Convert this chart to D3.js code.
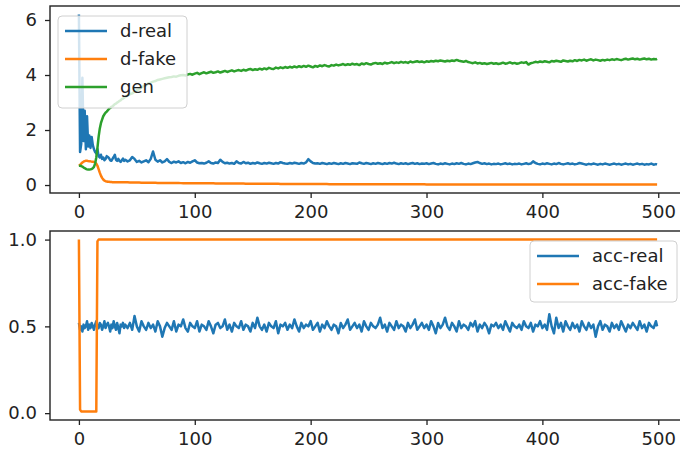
<!DOCTYPE html>
<html>
<head>
<meta charset="utf-8">
<title>GAN training curves</title>
<script src="https://d3js.org/d3.v7.min.js"></script>
<style>
  body { margin: 0; background: #fff; }
  svg text { font-family: "DejaVu Sans", sans-serif; fill: #222; }
</style>
</head>
<body>
<div id="viz"></div>
<script>
// epochs: every epoch up to 39, then every 2nd, plus the last one
var epochs = d3.range(0, 40).concat(d3.range(40, 499, 2), [499]);

var dReal = [
  6.2, 1.2, 1.5, 3.9, 1.6, 2.7, 1.3, 2.5, 1.4, 1.8,
  1.35, 1.75, 1.45, 1.3, 1.2, 1.15, 1.3, 1.05, 1.0, 1.1,
  0.95, 1.0, 0.9, 0.95, 1.05, 1.02, 0.98, 0.9, 0.88, 0.95,
  1.02, 1.1, 0.92, 0.88, 0.95, 0.88, 0.84, 0.9, 0.96, 0.88,
  // 40..98
  0.92, 0.86, 0.9, 1.02, 0.95, 0.84, 0.88, 0.82, 0.86, 0.9,
  0.83, 0.95, 1.22, 0.92, 0.85, 0.9, 0.82, 0.86, 0.94, 0.84,
  0.8, 0.85, 0.82, 0.86, 0.8, 0.83, 0.79, 0.84, 0.81, 0.86,
  // 100..498
  0.9, 0.82, 0.79, 0.8, 0.78, 0.81, 0.86, 0.8, 0.78, 0.82,
  0.8, 0.92, 0.84, 0.79, 0.81, 0.78, 0.8, 0.77, 0.86, 0.8,
  0.78, 0.84, 0.79, 0.81, 0.77, 0.8, 0.78, 0.82, 0.79, 0.77,
  0.8, 0.78, 0.81, 0.79, 0.77, 0.8, 0.78, 0.83, 0.8, 0.78,
  0.77, 0.8, 0.78, 0.81, 0.79, 0.77, 0.8, 0.78, 0.82, 0.94,
  0.86, 0.8, 0.78, 0.79, 0.77, 0.8, 0.78, 0.76, 0.79, 0.77,
  0.8, 0.78, 0.76, 0.79, 0.77, 0.8, 0.78, 0.76, 0.79, 0.78,
  0.77, 0.82, 0.79, 0.77, 0.8, 0.78, 0.76, 0.79, 0.77, 0.8,
  0.78, 0.76, 0.79, 0.77, 0.8, 0.78, 0.81, 0.78, 0.76, 0.79,
  0.77, 0.79, 0.76, 0.78, 0.8, 0.77, 0.79, 0.76, 0.78, 0.77,
  0.79, 0.76, 0.78, 0.8, 0.77, 0.75, 0.78, 0.76, 0.79, 0.77,
  0.75, 0.78, 0.76, 0.79, 0.77, 0.8, 0.77, 0.75, 0.78, 0.76,
  0.79, 0.82, 0.84, 0.8, 0.77, 0.79, 0.76, 0.78, 0.75, 0.77,
  0.76, 0.78, 0.75, 0.77, 0.79, 0.76, 0.78, 0.75, 0.77, 0.76,
  0.78, 0.75, 0.77, 0.79, 0.76, 0.78, 0.86, 0.8, 0.77, 0.75,
  0.78, 0.76, 0.79, 0.77, 0.75, 0.78, 0.76, 0.8, 0.77, 0.75,
  0.77, 0.79, 0.76, 0.78, 0.75, 0.77, 0.8, 0.78, 0.76, 0.74,
  0.77, 0.75, 0.78, 0.76, 0.74, 0.77, 0.75, 0.78, 0.76, 0.74,
  0.76, 0.78, 0.75, 0.77, 0.74, 0.76, 0.78, 0.75, 0.77, 0.74,
  0.76, 0.78, 0.75, 0.77, 0.74, 0.76, 0.75, 0.78, 0.74, 0.76,
  0.75
];

var dFake = [
  0.7, 0.73, 0.78, 0.82, 0.85, 0.87, 0.88, 0.88, 0.87, 0.86,
  0.86, 0.85, 0.85, 0.84, 0.82, 0.78, 0.7, 0.58, 0.45, 0.34,
  0.26, 0.2, 0.16, 0.14, 0.13, 0.12, 0.115, 0.11, 0.11, 0.105,
  0.105, 0.105, 0.1, 0.1, 0.1, 0.1, 0.1, 0.1, 0.1, 0.1,
  // 40..98
  0.1, 0.1, 0.095, 0.095, 0.09, 0.09, 0.09, 0.085, 0.085, 0.085,
  0.08, 0.08, 0.08, 0.08, 0.078, 0.077, 0.076, 0.075, 0.074, 0.073,
  0.072, 0.071, 0.07, 0.07, 0.069, 0.068, 0.068, 0.067, 0.066, 0.066,
  // 100..498
  0.065, 0.064, 0.064, 0.063, 0.062, 0.062, 0.061, 0.06, 0.06, 0.059,
  0.058, 0.058, 0.057, 0.056, 0.056, 0.055, 0.054, 0.054, 0.053, 0.052,
  0.052, 0.051, 0.05, 0.05, 0.049, 0.048, 0.048, 0.047, 0.046, 0.046,
  0.045, 0.045, 0.044, 0.043, 0.043, 0.042, 0.042, 0.041, 0.04, 0.04,
  0.04, 0.039, 0.039, 0.038, 0.038, 0.037, 0.037, 0.036, 0.036, 0.036,
  0.035, 0.035, 0.034, 0.034, 0.034, 0.033, 0.033, 0.033, 0.032, 0.032,
  0.032, 0.031, 0.031, 0.031, 0.03, 0.03, 0.03, 0.03, 0.029, 0.029,
  0.029, 0.029, 0.028, 0.028, 0.028, 0.028, 0.027, 0.027, 0.027, 0.027,
  0.027, 0.026, 0.026, 0.026, 0.026, 0.026, 0.025, 0.025, 0.025, 0.025,
  0.025, 0.025, 0.025, 0.024, 0.024, 0.024, 0.024, 0.024, 0.024, 0.024,
  0.023, 0.023, 0.023, 0.023, 0.023, 0.023, 0.023, 0.023, 0.023, 0.023,
  0.023, 0.023, 0.023, 0.022, 0.022, 0.022, 0.022, 0.022, 0.022, 0.022,
  0.022, 0.022, 0.021, 0.021, 0.021, 0.021, 0.021, 0.021, 0.021, 0.021,
  0.021, 0.021, 0.021, 0.021, 0.021, 0.021, 0.021, 0.021, 0.021, 0.021,
  0.021, 0.021, 0.021, 0.021, 0.021, 0.021, 0.021, 0.021, 0.021, 0.021,
  0.02, 0.02, 0.02, 0.02, 0.02, 0.02, 0.02, 0.02, 0.02, 0.02,
  0.02, 0.02, 0.02, 0.02, 0.02, 0.02, 0.02, 0.02, 0.02, 0.02,
  0.02, 0.02, 0.02, 0.02, 0.02, 0.02, 0.02, 0.02, 0.02, 0.02,
  0.019, 0.019, 0.019, 0.019, 0.019, 0.019, 0.019, 0.019, 0.019, 0.019,
  0.019, 0.019, 0.019, 0.019, 0.019, 0.019, 0.019, 0.019, 0.019, 0.019,
  0.019
];

var gen = [
  0.7, 0.7, 0.69, 0.67, 0.64, 0.61, 0.59, 0.57, 0.56, 0.56,
  0.57, 0.58, 0.61, 0.66, 0.78, 1.0, 1.35, 1.75, 2.05, 2.25,
  2.38, 2.5, 2.57, 2.63, 2.67, 2.72, 2.77, 2.8, 2.84, 2.86,
  2.9, 2.94, 2.96, 3.0, 3.02, 3.06, 3.08, 3.12, 3.14, 3.17,
  // 40..98
  3.2, 3.25, 3.3, 3.33, 3.4, 3.45, 3.48, 3.55, 3.6, 3.63,
  3.7, 3.72, 3.76, 3.78, 3.82, 3.84, 3.86, 3.88, 3.9, 3.92,
  3.93, 3.95, 3.94, 3.97, 3.99, 4.0, 3.98, 4.02, 4.04, 4.01,
  // 100..498
  4.05, 4.08, 4.03, 4.07, 4.1, 4.06, 4.09, 4.12, 4.08, 4.1,
  4.13, 4.09, 4.12, 4.15, 4.11, 4.14, 4.17, 4.13, 4.16, 4.18,
  4.15, 4.19, 4.16, 4.2, 4.22, 4.18, 4.21, 4.19, 4.23, 4.2,
  4.24, 4.21, 4.26, 4.23, 4.22, 4.27, 4.24, 4.28, 4.25, 4.29,
  4.26, 4.3, 4.27, 4.31, 4.28, 4.32, 4.29, 4.33, 4.3, 4.34,
  4.31, 4.28, 4.33, 4.3, 4.35, 4.32, 4.36, 4.33, 4.31, 4.36,
  4.34, 4.38, 4.35, 4.37, 4.4, 4.36, 4.39, 4.37, 4.41, 4.38,
  4.4, 4.36, 4.42, 4.39, 4.43, 4.4, 4.38, 4.42, 4.44, 4.41,
  4.43, 4.4, 4.45, 4.42, 4.44, 4.47, 4.43, 4.46, 4.44, 4.48,
  4.45, 4.47, 4.44, 4.49, 4.46, 4.48, 4.5, 4.47, 4.49, 4.46,
  4.5, 4.48, 4.51, 4.49, 4.52, 4.5, 4.53, 4.51, 4.49, 4.52,
  4.5, 4.53, 4.51, 4.55, 4.52, 4.5, 4.48, 4.51, 4.47, 4.45,
  4.43, 4.46, 4.42, 4.44, 4.41, 4.43, 4.4, 4.42, 4.44, 4.41,
  4.43, 4.4, 4.42, 4.45, 4.41, 4.43, 4.46, 4.42, 4.44, 4.41,
  4.43, 4.46, 4.44, 4.47, 4.38, 4.43, 4.45, 4.48, 4.46, 4.49,
  4.47, 4.5, 4.48, 4.46, 4.51, 4.49, 4.52, 4.5, 4.48, 4.53,
  4.51, 4.49, 4.52, 4.5, 4.54, 4.51, 4.55, 4.53, 4.56, 4.52,
  4.55, 4.57, 4.53, 4.56, 4.54, 4.52, 4.55, 4.53, 4.56, 4.54,
  4.57, 4.55, 4.58, 4.56, 4.54, 4.57, 4.59, 4.56, 4.58, 4.6,
  4.57, 4.59, 4.56, 4.58, 4.6, 4.57, 4.59, 4.56, 4.58, 4.57,
  4.59
];

var accReal = [
  0.52, 0.48, 0.5, 0.47, 0.51, 0.49, 0.5, 0.53, 0.48, 0.51,
  0.49, 0.52, 0.5, 0.48, 0.51, 0.53, 0.5, 0.49, 0.52, 0.51,
  0.48, 0.5, 0.53, 0.49, 0.51, 0.52, 0.5, 0.47, 0.51, 0.49,
  0.53, 0.5, 0.48, 0.52, 0.49, 0.46, 0.51, 0.5, 0.52, 0.49,
  // 40..98
  0.51, 0.49, 0.52, 0.48, 0.56, 0.5, 0.47, 0.53, 0.5, 0.48,
  0.52, 0.49, 0.51, 0.47, 0.53, 0.5, 0.44, 0.49, 0.52, 0.5,
  0.48, 0.53, 0.47, 0.51, 0.5, 0.54, 0.49, 0.47, 0.52, 0.5,
  // 100..498
  0.49, 0.53, 0.47, 0.51, 0.5, 0.48, 0.53, 0.5, 0.46, 0.51,
  0.52, 0.49, 0.5, 0.54, 0.48, 0.51, 0.47, 0.52, 0.5, 0.49,
  0.53, 0.48, 0.51, 0.5, 0.47, 0.52, 0.49, 0.55, 0.5, 0.48,
  0.51, 0.47, 0.52, 0.5, 0.49, 0.53, 0.46, 0.51, 0.5, 0.52,
  0.48, 0.51, 0.49, 0.54, 0.5, 0.47, 0.52, 0.49, 0.51, 0.5,
  0.53, 0.48, 0.5, 0.52, 0.47, 0.51, 0.49, 0.53, 0.5, 0.48,
  0.51, 0.5, 0.46, 0.52, 0.49, 0.51, 0.54, 0.48, 0.5, 0.52,
  0.49, 0.51, 0.47, 0.53, 0.5, 0.48, 0.52, 0.5, 0.49, 0.51,
  0.55, 0.49, 0.51, 0.47, 0.52, 0.5, 0.48, 0.53, 0.49, 0.51,
  0.5, 0.47, 0.52, 0.49, 0.51, 0.54, 0.48, 0.5, 0.52, 0.49,
  0.51, 0.48, 0.53, 0.5, 0.46, 0.52, 0.49, 0.51, 0.55, 0.5,
  0.48, 0.52, 0.5, 0.47, 0.53, 0.49, 0.51, 0.5, 0.48, 0.52,
  0.5, 0.53, 0.47, 0.51, 0.49, 0.52, 0.5, 0.46, 0.51, 0.5,
  0.52, 0.49, 0.51, 0.48, 0.53, 0.5, 0.47, 0.52, 0.5, 0.49,
  0.51, 0.48, 0.53, 0.5, 0.49, 0.52, 0.47, 0.51, 0.5, 0.53,
  0.49, 0.51, 0.48, 0.57, 0.5, 0.46, 0.55, 0.49, 0.52, 0.47,
  0.53, 0.5, 0.48, 0.52, 0.49, 0.51, 0.47, 0.53, 0.5, 0.48,
  0.52, 0.49, 0.51, 0.44, 0.5, 0.53, 0.48, 0.51, 0.5, 0.47,
  0.52, 0.49, 0.51, 0.48, 0.53, 0.5, 0.47, 0.51, 0.49, 0.52,
  0.5, 0.48, 0.53, 0.49, 0.51, 0.47, 0.52, 0.5, 0.49, 0.53,
  0.5
];

// acc-fake is flat at 1.0 after epoch 17, so it only needs these points
var accFakeEpochs = [0, 1, 2, 3, 4, 5, 6, 7, 8, 9, 10, 11, 12, 13, 14, 15, 16, 17, 100, 200, 300, 400, 499];
var accFake = [1.0, 0.02, 0.01, 0.01, 0.01, 0.01, 0.01, 0.01, 0.01, 0.01, 0.01, 0.01, 0.01, 0.01, 0.01, 0.01, 0.99, 1.0, 1.0, 1.0, 1.0, 1.0, 1.0];

var xTicks = [0, 100, 200, 300, 400, 500];
var lossTicks = [0, 2, 4, 6];
var accTicks = [0.0, 0.5, 1.0];

var colors = ["#1f77b4", "#ff7f0e", "#2ca02c"];

var W = 680, H = 452;
var left = 50, right = 686;

var svg = d3.select("#viz").append("svg")
    .attr("width", W)
    .attr("height", H);

// matplotlib style 5% padding
function padded(lo, hi) {
  var p = (hi - lo) * 0.05;
  return [lo - p, hi + p];
}

var x = d3.scaleLinear()
    .domain(padded(0, 499))
    .range([left, right]);

function panel(top, bottom, series, yTicks, fmt, legendPos) {
  var all = [];
  series.forEach(function (s) { all = all.concat(s.values); });
  var y = d3.scaleLinear()
      .domain(padded(d3.min(all), d3.max(all)))
      .range([bottom, top]);

  var id = "clip" + top;
  svg.append("clipPath").attr("id", id)
    .append("rect")
      .attr("x", left).attr("y", top)
      .attr("width", right - left).attr("height", bottom - top);

  var line = d3.line()
      .x(function (d) { return x(d[0]); })
      .y(function (d) { return y(d[1]); });

  var g = svg.append("g").attr("clip-path", "url(#" + id + ")");
  series.forEach(function (s, i) {
    g.append("path")
      .datum(d3.zip(s.xs, s.values))
      .attr("d", line)
      .attr("fill", "none")
      .attr("stroke", colors[i])
      .attr("stroke-width", 2.5)
      .attr("stroke-linejoin", "round");
  });

  // spines
  svg.append("rect")
    .attr("x", left).attr("y", top)
    .attr("width", right - left).attr("height", bottom - top)
    .attr("fill", "none")
    .attr("stroke", "#222")
    .attr("stroke-width", 1.4);

  var xa = svg.append("g")
    .attr("transform", "translate(0," + bottom + ")")
    .call(d3.axisBottom(x).tickValues(xTicks).tickSize(5).tickPadding(7));
  var ya = svg.append("g")
    .attr("transform", "translate(" + left + ",0)")
    .call(d3.axisLeft(y).tickValues(yTicks).tickFormat(fmt).tickSize(5).tickPadding(8));
  [xa, ya].forEach(function (a) {
    a.select(".domain").remove();
    a.selectAll("line").attr("stroke", "#222").attr("stroke-width", 1.3);
    a.selectAll("text").attr("font-size", 18).attr("font-family", "DejaVu Sans").attr("fill", "#222");
  });

  // legend
  var lg = svg.append("g").attr("transform", "translate(" + legendPos.x + "," + legendPos.y + ")");
  lg.append("rect")
    .attr("width", legendPos.w).attr("height", legendPos.h)
    .attr("rx", 4)
    .attr("fill", "#fff").attr("fill-opacity", 0.8)
    .attr("stroke", "#d0d0d0").attr("stroke-width", 1);
  series.forEach(function (s, i) {
    var cy = 15 + i * 28;
    lg.append("line")
      .attr("x1", 7).attr("x2", 49)
      .attr("y1", cy).attr("y2", cy)
      .attr("stroke", colors[i]).attr("stroke-width", 2.5);
    lg.append("text")
      .attr("x", 62).attr("y", cy).attr("dy", "0.35em")
      .attr("font-size", 18)
      .text(s.name);
  });
}

panel(6, 193, [
  { name: "d-real", xs: epochs, values: dReal },
  { name: "d-fake", xs: epochs, values: dFake },
  { name: "gen", xs: epochs, values: gen }
], lossTicks, d3.format("d"), { x: 58, y: 16, w: 129, h: 92 });

panel(231, 420, [
  { name: "acc-real", xs: epochs, values: accReal },
  { name: "acc-fake", xs: accFakeEpochs, values: accFake }
], accTicks, d3.format(".1f"), { x: 530, y: 241, w: 147, h: 61 });
</script>
</body>
</html>
